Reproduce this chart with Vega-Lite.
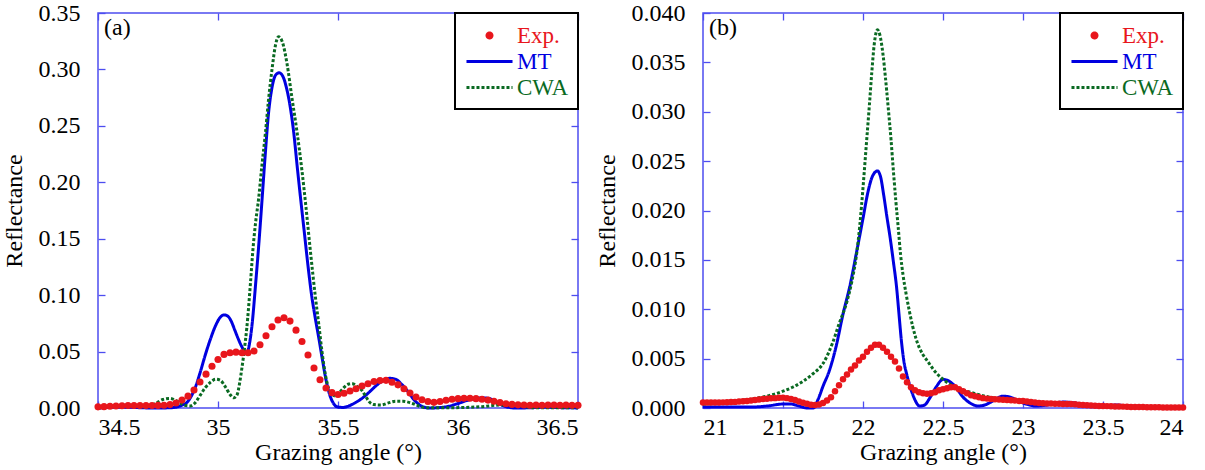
{
"$schema": "https://vega.github.io/schema/vega-lite/v6.json",
"padding": {"left": 1, "top": 0, "right": 5, "bottom": 5},
"spacing": 9,
"datasets": {
"a": [
{"s":"Exp.","x":34.5,"y":0.001},{"s":"Exp.","x":34.525,"y":0.0012},{"s":"Exp.","x":34.55,"y":0.0015},{"s":"Exp.","x":34.575,"y":0.0018},{"s":"Exp.","x":34.6,"y":0.002},{"s":"Exp.","x":34.625,"y":0.0022},{"s":"Exp.","x":34.65,"y":0.0022},{"s":"Exp.","x":34.675,"y":0.0022},{"s":"Exp.","x":34.7,"y":0.0022},{"s":"Exp.","x":34.725,"y":0.0022},{"s":"Exp.","x":34.75,"y":0.0023},{"s":"Exp.","x":34.775,"y":0.0025},{"s":"Exp.","x":34.8,"y":0.003},{"s":"Exp.","x":34.825,"y":0.0045},{"s":"Exp.","x":34.85,"y":0.007},{"s":"Exp.","x":34.875,"y":0.0105},{"s":"Exp.","x":34.9,"y":0.016},{"s":"Exp.","x":34.925,"y":0.023},{"s":"Exp.","x":34.95,"y":0.03},{"s":"Exp.","x":34.975,"y":0.037},{"s":"Exp.","x":35.0,"y":0.043},{"s":"Exp.","x":35.025,"y":0.0475},{"s":"Exp.","x":35.05,"y":0.049},{"s":"Exp.","x":35.075,"y":0.0495},{"s":"Exp.","x":35.1,"y":0.049},{"s":"Exp.","x":35.125,"y":0.049},{"s":"Exp.","x":35.15,"y":0.0505},{"s":"Exp.","x":35.175,"y":0.056},{"s":"Exp.","x":35.2,"y":0.064},{"s":"Exp.","x":35.225,"y":0.072},{"s":"Exp.","x":35.25,"y":0.078},{"s":"Exp.","x":35.275,"y":0.08},{"s":"Exp.","x":35.3,"y":0.077},{"s":"Exp.","x":35.325,"y":0.069},{"s":"Exp.","x":35.35,"y":0.059},{"s":"Exp.","x":35.375,"y":0.047},{"s":"Exp.","x":35.4,"y":0.0355},{"s":"Exp.","x":35.425,"y":0.025},{"s":"Exp.","x":35.45,"y":0.0177},{"s":"Exp.","x":35.475,"y":0.0136},{"s":"Exp.","x":35.5,"y":0.012},{"s":"Exp.","x":35.525,"y":0.013},{"s":"Exp.","x":35.55,"y":0.015},{"s":"Exp.","x":35.575,"y":0.017},{"s":"Exp.","x":35.6,"y":0.0195},{"s":"Exp.","x":35.625,"y":0.0215},{"s":"Exp.","x":35.65,"y":0.0235},{"s":"Exp.","x":35.675,"y":0.0243},{"s":"Exp.","x":35.7,"y":0.0245},{"s":"Exp.","x":35.725,"y":0.0228},{"s":"Exp.","x":35.75,"y":0.0205},{"s":"Exp.","x":35.775,"y":0.017},{"s":"Exp.","x":35.8,"y":0.0133},{"s":"Exp.","x":35.825,"y":0.0098},{"s":"Exp.","x":35.85,"y":0.0073},{"s":"Exp.","x":35.875,"y":0.0057},{"s":"Exp.","x":35.9,"y":0.005},{"s":"Exp.","x":35.925,"y":0.0058},{"s":"Exp.","x":35.95,"y":0.0068},{"s":"Exp.","x":35.975,"y":0.0077},{"s":"Exp.","x":36.0,"y":0.0083},{"s":"Exp.","x":36.025,"y":0.0086},{"s":"Exp.","x":36.05,"y":0.0086},{"s":"Exp.","x":36.075,"y":0.0083},{"s":"Exp.","x":36.1,"y":0.0077},{"s":"Exp.","x":36.125,"y":0.007},{"s":"Exp.","x":36.15,"y":0.006},{"s":"Exp.","x":36.175,"y":0.0048},{"s":"Exp.","x":36.2,"y":0.0038},{"s":"Exp.","x":36.225,"y":0.0032},{"s":"Exp.","x":36.25,"y":0.0028},{"s":"Exp.","x":36.275,"y":0.0026},{"s":"Exp.","x":36.3,"y":0.0025},{"s":"Exp.","x":36.325,"y":0.0026},{"s":"Exp.","x":36.35,"y":0.0025},{"s":"Exp.","x":36.375,"y":0.0026},{"s":"Exp.","x":36.4,"y":0.0026},{"s":"Exp.","x":36.425,"y":0.0025},{"s":"Exp.","x":36.45,"y":0.0026},{"s":"Exp.","x":36.475,"y":0.0025},{"s":"Exp.","x":36.5,"y":0.0025},
{"s":"MT","x":34.5,"y":0.0},{"s":"MT","x":34.55,"y":0.0005},{"s":"MT","x":34.6,"y":0.0008},{"s":"MT","x":34.65,"y":0.0005},{"s":"MT","x":34.7,"y":0.0001},{"s":"MT","x":34.75,"y":0.0},{"s":"MT","x":34.8,"y":0.0002},{"s":"MT","x":34.83,"y":0.001},{"s":"MT","x":34.85,"y":0.0025},{"s":"MT","x":34.871,"y":0.005},{"s":"MT","x":34.89,"y":0.011},{"s":"MT","x":34.905,"y":0.018},{"s":"MT","x":34.925,"y":0.031},{"s":"MT","x":34.947,"y":0.047},{"s":"MT","x":34.97,"y":0.062},{"s":"MT","x":34.99,"y":0.073},{"s":"MT","x":35.01,"y":0.0805},{"s":"MT","x":35.025,"y":0.0825},{"s":"MT","x":35.04,"y":0.0815},{"s":"MT","x":35.055,"y":0.077},{"s":"MT","x":35.07,"y":0.069},{"s":"MT","x":35.085,"y":0.061},{"s":"MT","x":35.1,"y":0.054},{"s":"MT","x":35.112,"y":0.05},{"s":"MT","x":35.122,"y":0.05},{"s":"MT","x":35.132,"y":0.058},{"s":"MT","x":35.142,"y":0.074},{"s":"MT","x":35.156,"y":0.108},{"s":"MT","x":35.17,"y":0.145},{"s":"MT","x":35.183,"y":0.183},{"s":"MT","x":35.197,"y":0.225},{"s":"MT","x":35.21,"y":0.26},{"s":"MT","x":35.225,"y":0.284},{"s":"MT","x":35.24,"y":0.295},{"s":"MT","x":35.255,"y":0.297},{"s":"MT","x":35.27,"y":0.294},{"s":"MT","x":35.285,"y":0.284},{"s":"MT","x":35.3,"y":0.268},{"s":"MT","x":35.315,"y":0.245},{"s":"MT","x":35.33,"y":0.214},{"s":"MT","x":35.345,"y":0.184},{"s":"MT","x":35.36,"y":0.155},{"s":"MT","x":35.375,"y":0.126},{"s":"MT","x":35.39,"y":0.1},{"s":"MT","x":35.405,"y":0.08},{"s":"MT","x":35.42,"y":0.062},{"s":"MT","x":35.435,"y":0.043},{"s":"MT","x":35.45,"y":0.025},{"s":"MT","x":35.465,"y":0.012},{"s":"MT","x":35.48,"y":0.0045},{"s":"MT","x":35.5,"y":0.0008},{"s":"MT","x":35.52,"y":0.0005},{"s":"MT","x":35.545,"y":0.0018},{"s":"MT","x":35.57,"y":0.0045},{"s":"MT","x":35.6,"y":0.0085},{"s":"MT","x":35.63,"y":0.014},{"s":"MT","x":35.66,"y":0.02},{"s":"MT","x":35.69,"y":0.0245},{"s":"MT","x":35.715,"y":0.0263},{"s":"MT","x":35.74,"y":0.0255},{"s":"MT","x":35.765,"y":0.021},{"s":"MT","x":35.79,"y":0.015},{"s":"MT","x":35.82,"y":0.0065},{"s":"MT","x":35.85,"y":0.0015},{"s":"MT","x":35.88,"y":0.0},{"s":"MT","x":35.92,"y":0.0003},{"s":"MT","x":35.96,"y":0.0015},{"s":"MT","x":36.0,"y":0.004},{"s":"MT","x":36.05,"y":0.0075},{"s":"MT","x":36.1,"y":0.009},{"s":"MT","x":36.13,"y":0.0085},{"s":"MT","x":36.16,"y":0.005},{"s":"MT","x":36.2,"y":0.0012},{"s":"MT","x":36.24,"y":0.0},{"s":"MT","x":36.3,"y":0.0002},{"s":"MT","x":36.35,"y":0.0006},{"s":"MT","x":36.4,"y":0.0005},{"s":"MT","x":36.45,"y":0.0002},{"s":"MT","x":36.5,"y":0.0001},
{"s":"CWA","x":34.5,"y":0.0},{"s":"CWA","x":34.55,"y":0.0008},{"s":"CWA","x":34.6,"y":0.0025},{"s":"CWA","x":34.65,"y":0.0018},{"s":"CWA","x":34.7,"y":0.001},{"s":"CWA","x":34.74,"y":0.004},{"s":"CWA","x":34.77,"y":0.0075},{"s":"CWA","x":34.8,"y":0.0085},{"s":"CWA","x":34.83,"y":0.006},{"s":"CWA","x":34.86,"y":0.0025},{"s":"CWA","x":34.885,"y":0.0018},{"s":"CWA","x":34.905,"y":0.0047},{"s":"CWA","x":34.925,"y":0.011},{"s":"CWA","x":34.947,"y":0.018},{"s":"CWA","x":34.97,"y":0.023},{"s":"CWA","x":34.99,"y":0.0255},{"s":"CWA","x":35.01,"y":0.0245},{"s":"CWA","x":35.03,"y":0.019},{"s":"CWA","x":35.05,"y":0.012},{"s":"CWA","x":35.065,"y":0.009},{"s":"CWA","x":35.08,"y":0.012},{"s":"CWA","x":35.09,"y":0.022},{"s":"CWA","x":35.1,"y":0.036},{"s":"CWA","x":35.11,"y":0.052},{"s":"CWA","x":35.12,"y":0.071},{"s":"CWA","x":35.135,"y":0.11},{"s":"CWA","x":35.145,"y":0.139},{"s":"CWA","x":35.157,"y":0.165},{"s":"CWA","x":35.169,"y":0.185},{"s":"CWA","x":35.183,"y":0.215},{"s":"CWA","x":35.197,"y":0.2425},{"s":"CWA","x":35.21,"y":0.272},{"s":"CWA","x":35.225,"y":0.3},{"s":"CWA","x":35.24,"y":0.322},{"s":"CWA","x":35.252,"y":0.329},{"s":"CWA","x":35.267,"y":0.325},{"s":"CWA","x":35.288,"y":0.3045},{"s":"CWA","x":35.308,"y":0.275},{"s":"CWA","x":35.329,"y":0.245},{"s":"CWA","x":35.35,"y":0.21},{"s":"CWA","x":35.367,"y":0.177},{"s":"CWA","x":35.385,"y":0.139},{"s":"CWA","x":35.406,"y":0.098},{"s":"CWA","x":35.42,"y":0.074},{"s":"CWA","x":35.433,"y":0.0505},{"s":"CWA","x":35.447,"y":0.03},{"s":"CWA","x":35.46,"y":0.018},{"s":"CWA","x":35.475,"y":0.0125},{"s":"CWA","x":35.49,"y":0.0106},{"s":"CWA","x":35.505,"y":0.0135},{"s":"CWA","x":35.524,"y":0.018},{"s":"CWA","x":35.545,"y":0.0212},{"s":"CWA","x":35.56,"y":0.0215},{"s":"CWA","x":35.58,"y":0.019},{"s":"CWA","x":35.6,"y":0.0155},{"s":"CWA","x":35.615,"y":0.0105},{"s":"CWA","x":35.628,"y":0.006},{"s":"CWA","x":35.65,"y":0.003},{"s":"CWA","x":35.68,"y":0.0027},{"s":"CWA","x":35.71,"y":0.0045},{"s":"CWA","x":35.74,"y":0.006},{"s":"CWA","x":35.77,"y":0.006},{"s":"CWA","x":35.81,"y":0.004},{"s":"CWA","x":35.84,"y":0.0015},{"s":"CWA","x":35.86,"y":0.0003},{"s":"CWA","x":35.93,"y":0.0002},{"s":"CWA","x":36.01,"y":0.0004},{"s":"CWA","x":36.1,"y":0.0012},{"s":"CWA","x":36.18,"y":0.0027},{"s":"CWA","x":36.25,"y":0.0018},{"s":"CWA","x":36.33,"y":0.0002},{"s":"CWA","x":36.45,"y":0.0003},{"s":"CWA","x":36.5,"y":0.0003}
],
"b": [
{"s":"Exp.","x":21.0,"y":0.00055},{"s":"Exp.","x":21.025,"y":0.00055},{"s":"Exp.","x":21.05,"y":0.00055},{"s":"Exp.","x":21.075,"y":0.00055},{"s":"Exp.","x":21.1,"y":0.00056},{"s":"Exp.","x":21.125,"y":0.00057},{"s":"Exp.","x":21.15,"y":0.00058},{"s":"Exp.","x":21.175,"y":0.0006},{"s":"Exp.","x":21.2,"y":0.00062},{"s":"Exp.","x":21.225,"y":0.00065},{"s":"Exp.","x":21.25,"y":0.00068},{"s":"Exp.","x":21.275,"y":0.00072},{"s":"Exp.","x":21.3,"y":0.00076},{"s":"Exp.","x":21.325,"y":0.0008},{"s":"Exp.","x":21.35,"y":0.00086},{"s":"Exp.","x":21.375,"y":0.0009},{"s":"Exp.","x":21.4,"y":0.00094},{"s":"Exp.","x":21.425,"y":0.00098},{"s":"Exp.","x":21.45,"y":0.001},{"s":"Exp.","x":21.475,"y":0.00103},{"s":"Exp.","x":21.5,"y":0.00105},{"s":"Exp.","x":21.525,"y":0.001},{"s":"Exp.","x":21.55,"y":0.00092},{"s":"Exp.","x":21.575,"y":0.0008},{"s":"Exp.","x":21.6,"y":0.00065},{"s":"Exp.","x":21.625,"y":0.00052},{"s":"Exp.","x":21.65,"y":0.00042},{"s":"Exp.","x":21.675,"y":0.00034},{"s":"Exp.","x":21.7,"y":0.0003},{"s":"Exp.","x":21.725,"y":0.00035},{"s":"Exp.","x":21.75,"y":0.0005},{"s":"Exp.","x":21.775,"y":0.00075},{"s":"Exp.","x":21.8,"y":0.0011},{"s":"Exp.","x":21.825,"y":0.0017},{"s":"Exp.","x":21.85,"y":0.0023},{"s":"Exp.","x":21.875,"y":0.0029},{"s":"Exp.","x":21.9,"y":0.0034},{"s":"Exp.","x":21.925,"y":0.0039},{"s":"Exp.","x":21.95,"y":0.0043},{"s":"Exp.","x":21.975,"y":0.0048},{"s":"Exp.","x":22.0,"y":0.0052},{"s":"Exp.","x":22.025,"y":0.0057},{"s":"Exp.","x":22.05,"y":0.0061},{"s":"Exp.","x":22.075,"y":0.0064},{"s":"Exp.","x":22.1,"y":0.0064},{"s":"Exp.","x":22.125,"y":0.0061},{"s":"Exp.","x":22.15,"y":0.0057},{"s":"Exp.","x":22.175,"y":0.0052},{"s":"Exp.","x":22.2,"y":0.0047},{"s":"Exp.","x":22.225,"y":0.004},{"s":"Exp.","x":22.25,"y":0.0032},{"s":"Exp.","x":22.275,"y":0.0026},{"s":"Exp.","x":22.3,"y":0.0021},{"s":"Exp.","x":22.325,"y":0.0018},{"s":"Exp.","x":22.35,"y":0.0016},{"s":"Exp.","x":22.375,"y":0.0015},{"s":"Exp.","x":22.4,"y":0.00145},{"s":"Exp.","x":22.425,"y":0.0015},{"s":"Exp.","x":22.45,"y":0.0016},{"s":"Exp.","x":22.475,"y":0.0018},{"s":"Exp.","x":22.5,"y":0.0019},{"s":"Exp.","x":22.525,"y":0.002},{"s":"Exp.","x":22.55,"y":0.0021},{"s":"Exp.","x":22.575,"y":0.0021},{"s":"Exp.","x":22.6,"y":0.0019},{"s":"Exp.","x":22.625,"y":0.0017},{"s":"Exp.","x":22.65,"y":0.0015},{"s":"Exp.","x":22.675,"y":0.0013},{"s":"Exp.","x":22.7,"y":0.0012},{"s":"Exp.","x":22.725,"y":0.0011},{"s":"Exp.","x":22.75,"y":0.001},{"s":"Exp.","x":22.775,"y":0.00095},{"s":"Exp.","x":22.8,"y":0.0009},{"s":"Exp.","x":22.825,"y":0.00088},{"s":"Exp.","x":22.85,"y":0.00085},{"s":"Exp.","x":22.875,"y":0.00083},{"s":"Exp.","x":22.9,"y":0.0008},{"s":"Exp.","x":22.925,"y":0.00078},{"s":"Exp.","x":22.95,"y":0.00075},{"s":"Exp.","x":22.975,"y":0.00072},{"s":"Exp.","x":23.0,"y":0.0007},{"s":"Exp.","x":23.025,"y":0.00065},{"s":"Exp.","x":23.05,"y":0.0006},{"s":"Exp.","x":23.075,"y":0.00055},{"s":"Exp.","x":23.1,"y":0.0005},{"s":"Exp.","x":23.125,"y":0.00048},{"s":"Exp.","x":23.15,"y":0.00046},{"s":"Exp.","x":23.175,"y":0.00045},{"s":"Exp.","x":23.2,"y":0.00044},{"s":"Exp.","x":23.225,"y":0.00042},{"s":"Exp.","x":23.25,"y":0.00041},{"s":"Exp.","x":23.275,"y":0.0004},{"s":"Exp.","x":23.3,"y":0.0004},{"s":"Exp.","x":23.325,"y":0.00037},{"s":"Exp.","x":23.35,"y":0.00034},{"s":"Exp.","x":23.375,"y":0.0003},{"s":"Exp.","x":23.4,"y":0.00027},{"s":"Exp.","x":23.425,"y":0.00025},{"s":"Exp.","x":23.45,"y":0.00023},{"s":"Exp.","x":23.475,"y":0.00021},{"s":"Exp.","x":23.5,"y":0.0002},{"s":"Exp.","x":23.525,"y":0.00019},{"s":"Exp.","x":23.55,"y":0.00018},{"s":"Exp.","x":23.575,"y":0.00016},{"s":"Exp.","x":23.6,"y":0.00015},{"s":"Exp.","x":23.625,"y":0.00014},{"s":"Exp.","x":23.65,"y":0.00012},{"s":"Exp.","x":23.675,"y":0.00011},{"s":"Exp.","x":23.7,"y":0.0001},{"s":"Exp.","x":23.725,"y":0.0001},{"s":"Exp.","x":23.75,"y":0.00009},{"s":"Exp.","x":23.775,"y":0.00008},{"s":"Exp.","x":23.8,"y":0.00008},{"s":"Exp.","x":23.825,"y":0.00007},{"s":"Exp.","x":23.85,"y":0.00007},{"s":"Exp.","x":23.875,"y":0.00006},{"s":"Exp.","x":23.9,"y":0.00006},{"s":"Exp.","x":23.925,"y":0.00005},{"s":"Exp.","x":23.95,"y":0.00005},{"s":"Exp.","x":23.975,"y":0.00005},{"s":"Exp.","x":24.0,"y":0.00005},
{"s":"MT","x":21.0,"y":0.0001},{"s":"MT","x":21.1,"y":0.0001},{"s":"MT","x":21.2,"y":0.0001},{"s":"MT","x":21.3,"y":0.0001},{"s":"MT","x":21.4,"y":0.0002},{"s":"MT","x":21.5,"y":0.0004},{"s":"MT","x":21.55,"y":0.0004},{"s":"MT","x":21.6,"y":0.0002},{"s":"MT","x":21.65,"y":0.0},{"s":"MT","x":21.69,"y":0.0},{"s":"MT","x":21.72,"y":0.0009},{"s":"MT","x":21.75,"y":0.0022},{"s":"MT","x":21.79,"y":0.0038},{"s":"MT","x":21.83,"y":0.0061},{"s":"MT","x":21.875,"y":0.0095},{"s":"MT","x":21.92,"y":0.0125},{"s":"MT","x":21.96,"y":0.0158},{"s":"MT","x":22.0,"y":0.0192},{"s":"MT","x":22.03,"y":0.0218},{"s":"MT","x":22.06,"y":0.0235},{"s":"MT","x":22.09,"y":0.024},{"s":"MT","x":22.11,"y":0.0234},{"s":"MT","x":22.13,"y":0.0215},{"s":"MT","x":22.15,"y":0.0193},{"s":"MT","x":22.17,"y":0.0172},{"s":"MT","x":22.19,"y":0.0148},{"s":"MT","x":22.21,"y":0.0122},{"s":"MT","x":22.225,"y":0.0095},{"s":"MT","x":22.24,"y":0.0068},{"s":"MT","x":22.255,"y":0.0048},{"s":"MT","x":22.275,"y":0.0033},{"s":"MT","x":22.29,"y":0.0024},{"s":"MT","x":22.32,"y":0.001},{"s":"MT","x":22.354,"y":0.0002},{"s":"MT","x":22.385,"y":0.0003},{"s":"MT","x":22.417,"y":0.001},{"s":"MT","x":22.46,"y":0.0022},{"s":"MT","x":22.5,"y":0.0029},{"s":"MT","x":22.54,"y":0.0027},{"s":"MT","x":22.58,"y":0.0021},{"s":"MT","x":22.62,"y":0.0012},{"s":"MT","x":22.67,"y":0.0005},{"s":"MT","x":22.72,"y":0.0002},{"s":"MT","x":22.76,"y":0.0003},{"s":"MT","x":22.8,"y":0.0006},{"s":"MT","x":22.84,"y":0.001},{"s":"MT","x":22.875,"y":0.0012},{"s":"MT","x":22.92,"y":0.0011},{"s":"MT","x":22.96,"y":0.0008},{"s":"MT","x":23.02,"y":0.0004},{"s":"MT","x":23.08,"y":0.0002},{"s":"MT","x":23.15,"y":0.0003},{"s":"MT","x":23.25,"y":0.0006},{"s":"MT","x":23.33,"y":0.0005},{"s":"MT","x":23.42,"y":0.0002},{"s":"MT","x":23.5,"y":0.0002},{"s":"MT","x":23.58,"y":0.0003},{"s":"MT","x":23.66,"y":0.0002},{"s":"MT","x":23.75,"y":0.0001},{"s":"MT","x":23.85,"y":0.00015},{"s":"MT","x":24.0,"y":0.0001},
{"s":"CWA","x":21.0,"y":0.0004},{"s":"CWA","x":21.1,"y":0.0005},{"s":"CWA","x":21.2,"y":0.0007},{"s":"CWA","x":21.3,"y":0.0009},{"s":"CWA","x":21.4,"y":0.0012},{"s":"CWA","x":21.5,"y":0.0017},{"s":"CWA","x":21.56,"y":0.0021},{"s":"CWA","x":21.625,"y":0.0027},{"s":"CWA","x":21.69,"y":0.0035},{"s":"CWA","x":21.75,"y":0.0045},{"s":"CWA","x":21.81,"y":0.0066},{"s":"CWA","x":21.85,"y":0.0085},{"s":"CWA","x":21.9,"y":0.0108},{"s":"CWA","x":21.93,"y":0.0128},{"s":"CWA","x":21.96,"y":0.0156},{"s":"CWA","x":21.98,"y":0.0185},{"s":"CWA","x":22.0,"y":0.0223},{"s":"CWA","x":22.02,"y":0.0265},{"s":"CWA","x":22.04,"y":0.0307},{"s":"CWA","x":22.055,"y":0.034},{"s":"CWA","x":22.07,"y":0.0368},{"s":"CWA","x":22.09,"y":0.0383},{"s":"CWA","x":22.105,"y":0.0378},{"s":"CWA","x":22.125,"y":0.0358},{"s":"CWA","x":22.14,"y":0.0335},{"s":"CWA","x":22.156,"y":0.0307},{"s":"CWA","x":22.175,"y":0.0272},{"s":"CWA","x":22.19,"y":0.024},{"s":"CWA","x":22.205,"y":0.021},{"s":"CWA","x":22.22,"y":0.0183},{"s":"CWA","x":22.235,"y":0.0155},{"s":"CWA","x":22.25,"y":0.0135},{"s":"CWA","x":22.27,"y":0.0115},{"s":"CWA","x":22.29,"y":0.0098},{"s":"CWA","x":22.31,"y":0.0083},{"s":"CWA","x":22.33,"y":0.0071},{"s":"CWA","x":22.355,"y":0.006},{"s":"CWA","x":22.375,"y":0.0054},{"s":"CWA","x":22.41,"y":0.0046},{"s":"CWA","x":22.44,"y":0.0039},{"s":"CWA","x":22.5,"y":0.0029},{"s":"CWA","x":22.58,"y":0.0021},{"s":"CWA","x":22.67,"y":0.0016},{"s":"CWA","x":22.79,"y":0.0011},{"s":"CWA","x":22.9,"y":0.0008},{"s":"CWA","x":23.0,"y":0.0007},{"s":"CWA","x":23.2,"y":0.0004},{"s":"CWA","x":23.5,"y":0.0002},{"s":"CWA","x":23.75,"y":0.00015},{"s":"CWA","x":24.0,"y":0.0001}
]
},
"config": {
  "font": "Liberation Serif",
  "view": {"stroke": "#4d4df0", "strokeWidth": 1.5},
  "axis": {"domain": false, "grid": false, "tickColor": "#4d4df0", "tickSize": -7, "tickWidth": 1.3,
           "labelFont": "Liberation Serif", "labelFontSize": 24, "labelColor": "black",
           "titleFont": "Liberation Serif", "titleFontSize": 24, "titleFontWeight": "normal", "titleColor": "black"},
  "axisX": {"labelPadding": 14, "titlePadding": 1},
  "axisY": {"labelPadding": 25, "titlePadding": 12},
  "title": {"font": "Liberation Serif", "fontSize": 24, "fontWeight": "normal", "anchor": "start", "frame": "group", "offset": -39, "dx": 6, "baseline": "top", "color": "black"}
},
"resolve": {"scale": {"color": "independent", "strokeDash": "independent"}, "legend": {"color": "independent"}},
"hconcat": [
{
  "width": 480, "height": 395,
  "title": {"text": "(a)"},
  "data": {"name": "a"},
  "resolve": {"axis": {"x": "independent", "y": "independent"}},
  "layer": [
    {
      "transform": [{"filter": "datum.s !== 'Exp.'"}],
      "mark": {"type": "line", "strokeWidth": 3, "interpolate": "monotone"},
      "encoding": {
        "x": {"field": "x", "type": "quantitative", "scale": {"domain": [34.5, 36.5], "nice": false}, "axis": {"orient": "bottom", "values": [34.5, 35, 35.5, 36, 36.5], "format": "~g", "title": "Grazing angle (°)"}},
        "y": {"field": "y", "type": "quantitative", "scale": {"domain": [0, 0.35], "nice": false}, "axis": {"orient": "left", "values": [0, 0.05, 0.1, 0.15, 0.2, 0.25, 0.3, 0.35], "format": ".2f", "title": "Reflectance"}},
        "color": {"field": "s", "type": "nominal", "scale": {"domain": ["Exp.", "MT", "CWA"], "range": ["#e8161c", "#0000e0", "#0a6a22"]},
          "legend": {"title": null, "orient": "top-right", "offset": 0, "strokeColor": "black", "fillColor": "white", "padding": 9,
            "labelFont": "Liberation Serif", "labelFontSize": 23, "labelOffset": 14, "symbolOffset": 12, "rowPadding": -6, "symbolSize": 530, "symbolStrokeWidth": 3,
            "encode": {
              "legend": {"update": {"strokeWidth": {"value": 2}}},
              "labels": {"update": {"fill": {"signal": "datum.value === 'Exp.' ? '#e8161c' : datum.value === 'MT' ? '#0000e0' : '#0a6a22'"}}},
              "symbols": {"update": {
                "shape": {"signal": "datum.value === 'Exp.' ? 'circle' : 'M-2,0H2'"},
                "size": {"signal": "datum.value === 'Exp.' ? 25 : 530"},
                "fill": {"signal": "datum.value === 'Exp.' ? '#e8161c' : 'transparent'"},
                "stroke": {"signal": "datum.value === 'Exp.' ? 'transparent' : datum.value === 'MT' ? '#0000e0' : '#0a6a22'"},
                "strokeWidth": {"value": 3},
                "strokeDash": {"signal": "datum.value === 'CWA' ? [3, 2] : [1, 0]"},
                "opacity": {"value": 1}
              }}
            }
          }
        },
        "strokeDash": {"field": "s", "type": "nominal", "scale": {"domain": ["MT", "CWA"], "range": [[1, 0], [3, 2]]}, "legend": null}
      }
    },
    {
      "transform": [{"filter": "datum.s === 'Exp.'"}],
      "mark": {"type": "point", "filled": true, "size": 50, "opacity": 1},
      "encoding": {
        "x": {"field": "x", "type": "quantitative", "scale": {"domain": [34.5, 36.5], "nice": false}, "axis": {"orient": "top", "values": [34.5, 35, 35.5, 36, 36.5], "labels": false, "title": null}},
        "y": {"field": "y", "type": "quantitative", "scale": {"domain": [0, 0.35], "nice": false}, "axis": {"orient": "right", "values": [0, 0.05, 0.1, 0.15, 0.2, 0.25, 0.3, 0.35], "labels": false, "title": null}},
        "color": {"field": "s", "type": "nominal", "scale": {"domain": ["Exp.", "MT", "CWA"], "range": ["#e8161c", "#0000e0", "#0a6a22"]}}
      }
    }
  ]
},
{
  "width": 480, "height": 395,
  "title": {"text": "(b)"},
  "data": {"name": "b"},
  "resolve": {"axis": {"x": "independent", "y": "independent"}},
  "layer": [
    {
      "transform": [{"filter": "datum.s !== 'Exp.'"}],
      "mark": {"type": "line", "strokeWidth": 3, "interpolate": "monotone"},
      "encoding": {
        "x": {"field": "x", "type": "quantitative", "scale": {"domain": [21, 24], "nice": false}, "axis": {"orient": "bottom", "values": [21, 21.5, 22, 22.5, 23, 23.5, 24], "format": "~g", "title": "Grazing angle (°)"}},
        "y": {"field": "y", "type": "quantitative", "scale": {"domain": [0, 0.04], "nice": false}, "axis": {"orient": "left", "values": [0, 0.005, 0.01, 0.015, 0.02, 0.025, 0.03, 0.035, 0.04], "format": ".3f", "title": "Reflectance"}},
        "color": {"field": "s", "type": "nominal", "scale": {"domain": ["Exp.", "MT", "CWA"], "range": ["#e8161c", "#0000e0", "#0a6a22"]},
          "legend": {"title": null, "orient": "top-right", "offset": 0, "strokeColor": "black", "fillColor": "white", "padding": 9,
            "labelFont": "Liberation Serif", "labelFontSize": 23, "labelOffset": 14, "symbolOffset": 12, "rowPadding": -6, "symbolSize": 530, "symbolStrokeWidth": 3,
            "encode": {
              "legend": {"update": {"strokeWidth": {"value": 2}}},
              "labels": {"update": {"fill": {"signal": "datum.value === 'Exp.' ? '#e8161c' : datum.value === 'MT' ? '#0000e0' : '#0a6a22'"}}},
              "symbols": {"update": {
                "shape": {"signal": "datum.value === 'Exp.' ? 'circle' : 'M-2,0H2'"},
                "size": {"signal": "datum.value === 'Exp.' ? 25 : 530"},
                "fill": {"signal": "datum.value === 'Exp.' ? '#e8161c' : 'transparent'"},
                "stroke": {"signal": "datum.value === 'Exp.' ? 'transparent' : datum.value === 'MT' ? '#0000e0' : '#0a6a22'"},
                "strokeWidth": {"value": 3},
                "strokeDash": {"signal": "datum.value === 'CWA' ? [3, 2] : [1, 0]"},
                "opacity": {"value": 1}
              }}
            }
          }
        },
        "strokeDash": {"field": "s", "type": "nominal", "scale": {"domain": ["MT", "CWA"], "range": [[1, 0], [3, 2]]}, "legend": null}
      }
    },
    {
      "transform": [{"filter": "datum.s === 'Exp.'"}],
      "mark": {"type": "point", "filled": true, "size": 42, "opacity": 1},
      "encoding": {
        "x": {"field": "x", "type": "quantitative", "scale": {"domain": [21, 24], "nice": false}, "axis": {"orient": "top", "values": [21, 21.5, 22, 22.5, 23, 23.5, 24], "labels": false, "title": null}},
        "y": {"field": "y", "type": "quantitative", "scale": {"domain": [0, 0.04], "nice": false}, "axis": {"orient": "right", "values": [0, 0.005, 0.01, 0.015, 0.02, 0.025, 0.03, 0.035, 0.04], "labels": false, "title": null}},
        "color": {"field": "s", "type": "nominal", "scale": {"domain": ["Exp.", "MT", "CWA"], "range": ["#e8161c", "#0000e0", "#0a6a22"]}}
      }
    }
  ]
}
]
}
